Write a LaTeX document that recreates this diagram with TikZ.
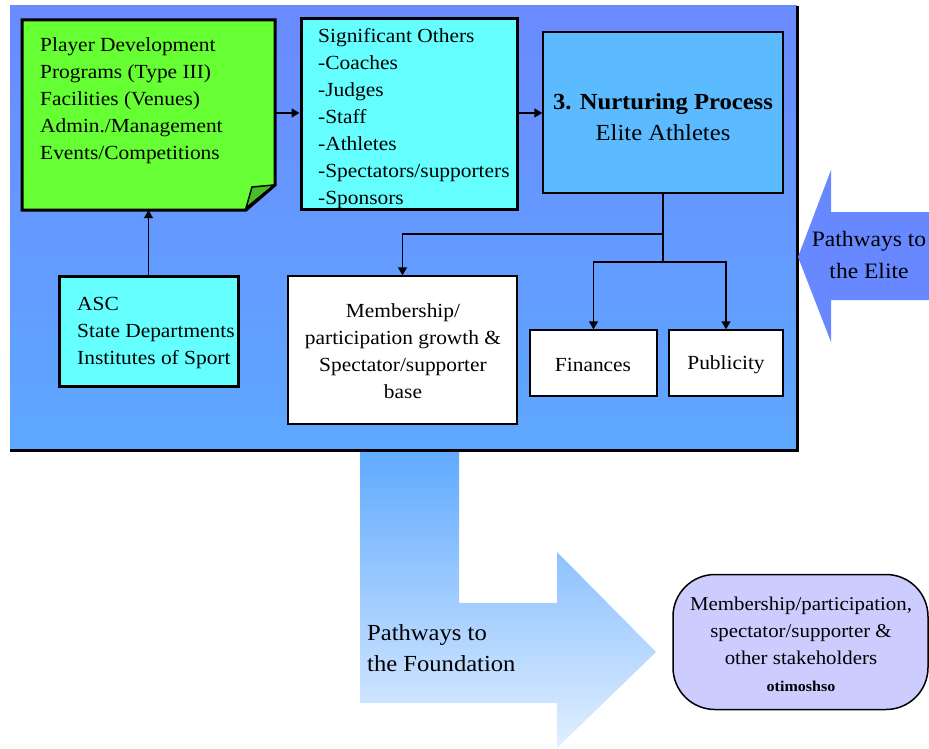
\documentclass[tikz,border=0pt]{standalone}
\usepackage{fontspec}
\setmainfont{Liberation Serif}[FakeStretch=1.07]
\usetikzlibrary{arrows.meta}
\definecolor{bgtop}{RGB}{106,138,255}
\definecolor{bgbot}{RGB}{94,168,255}
\definecolor{greenbox}{RGB}{102,255,51}
\definecolor{greenfold}{RGB}{70,190,40}
\definecolor{cyanbox}{RGB}{102,255,255}
\definecolor{nurture}{RGB}{92,186,255}
\definecolor{elite}{RGB}{104,136,255}
\definecolor{found1}{RGB}{96,170,255}
\definecolor{foundmid}{RGB}{200,223,255}
\definecolor{found2}{RGB}{226,239,255}
\definecolor{oval}{RGB}{204,204,255}
\tikzset{
  txt/.style={font=\fontsize{20}{27}\selectfont, inner sep=0pt},
  thickbox/.style={draw=black, line width=3pt, inner sep=0pt},
  thinbox/.style={draw=black, line width=1.4pt, inner sep=0pt},
  conn/.style={draw=black, line width=1.4pt},
  arr/.style={conn, -{Triangle[length=8pt,width=9pt]}},
}
\begin{document}
\begin{tikzpicture}[x=1pt,y=-1pt]
\useasboundingbox (0,0) rectangle (929,749);

% main panel
\shade[top color=bgtop, bottom color=bgbot] (10,6) rectangle (797,450);
\draw[line width=3pt] (10,450) -- (797.5,450) -- (797.5,6);

% pathways to the elite (left-pointing arrow)
\fill[elite] (798,257) -- (831,170) -- (831,212) -- (929,212) -- (929,300) -- (831,300) -- (831,342) -- cycle;
\node[inner sep=0pt, align=center, anchor=north, font=\fontsize{22}{32}\selectfont] (elitetxt) at (869,231) {Pathways to\\the Elite};

% pathways to the foundation (bent arrow)
\shade[top color=found1, middle color=foundmid, bottom color=found2]
  (360,452) -- (459,452) -- (459,603) -- (557,603) -- (557,552) -- (656,652)
  -- (557,748) -- (557,703) -- (360,703) -- cycle;
\node[inner sep=0pt, align=left, anchor=north west, font=\fontsize{23}{31}\selectfont] (foundtxt) at (367,624) {Pathways to\\the Foundation};

% player development box with folded corner
\node[inner sep=0pt, minimum width=253pt, minimum height=190pt] (dev) at (148.5,115) {};
\filldraw[fill=greenbox, line width=3pt] (22,20) -- (275,20) -- (275,185) -- (246,210) -- (22,210) -- cycle;
\filldraw[fill=greenfold, line width=1.5pt] (246,208) -- (252,187) -- (274,185) -- cycle;
\node[txt, align=left, anchor=north west] (devtxt) at (40,37)
  {Player Development\\Programs (Type III)\\Facilities (Venues)\\Admin./Management\\Events/Competitions};

% significant others
\node[thickbox, fill=cyanbox, minimum width=216pt, minimum height=190pt] (others) at (409,114) {};
\node[txt, align=left, anchor=north west] (otherstxt) at (318,28)
  {Significant Others\\-Coaches\\-Judges\\-Staff\\-Athletes\\-Spectators/supporters\\-Sponsors};

% nurturing process
\node[thinbox, fill=nurture, minimum width=240pt, minimum height=161pt] (proc) at (663,112.5) {};
\node[inner sep=0pt, anchor=north, font=\fontsize{23}{31}\selectfont\bfseries] (proctitle) at (663,93) {3. Nurturing Process};
\node[inner sep=0pt, anchor=north, font=\fontsize{23}{31}\selectfont] (procsub) at (663,124) {Elite Athletes};

% agencies
\node[thickbox, fill=cyanbox, minimum width=179pt, minimum height=110pt] (asc) at (148.5,331) {};
\node[txt, align=left, anchor=north west] (asctxt) at (77,297)
  {ASC\\State Departments\\Institutes of Sport};

% outcomes
\node[thinbox, fill=white, minimum width=229pt, minimum height=148pt] (member) at (402.5,350) {};
\node[txt, align=center, anchor=north] (membertxt) at (403,303)
  {Membership/\\participation growth \&\\Spectator/supporter\\base};
\node[thinbox, fill=white, minimum width=127pt, minimum height=66pt] (fin) at (593.5,363) {};
\node[txt] (fintxt) at (593,365) {Finances};
\node[thinbox, fill=white, minimum width=114pt, minimum height=66pt] (pub) at (726,363) {};
\node[txt] (pubtxt) at (726,365) {Publicity};

% stakeholder outcome
\node[draw=black, line width=1.5pt, fill=oval, rounded corners=42pt,
      minimum width=255pt, minimum height=135pt, inner sep=0pt] (stake) at (800.5,642) {};
\node[inner sep=0pt, align=center, anchor=north, font=\fontsize{19.5}{27}\selectfont] (staketxt) at (801,597)
  {Membership/participation,\\spectator/supporter \&\\other stakeholders};
\node[inner sep=0pt, anchor=base, font=\fontsize{15}{17}\selectfont\bfseries] (stakenote) at (801,691) {otimoshso};

% connectors
\coordinate (split) at (663,234);
\coordinate (fork) at (663,262);
\draw[arr] (dev.east |- 0,113) -- (others.west |- 0,113);
\draw[arr] (others.east |- 0,113) -- (proc.west |- 0,113);
\draw[arr] (asc.north) -- (dev.south);
\draw[conn] (proc.south) -- (fork);
\draw[arr] (split) -| (member.north);
\draw[arr] (fork) -| (fin.north);
\draw[arr] (fork) -| (pub.north);
\end{tikzpicture}
\end{document}
